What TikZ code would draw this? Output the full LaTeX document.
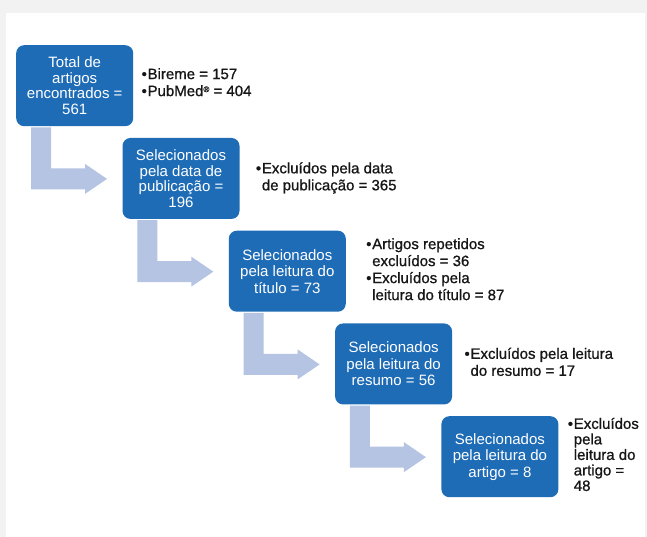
\documentclass[tikz,border=0pt]{standalone}
\usepackage{fontspec}
\setmainfont{Liberation Sans}
\newfontfamily\notefont[FakeBold=0.9]{Liberation Sans}
\usetikzlibrary{calc}
\definecolor{boxblue}{RGB}{31,108,182}
\definecolor{arrowblue}{RGB}{181,196,227}
\definecolor{txtcol}{RGB}{22,22,22}
\definecolor{framegray}{RGB}{242,242,242}
\newcommand{\bl}{\makebox[6pt][l]{\textbullet}}
\newcommand{\bentarr}[1]{%
  \fill[bentarrow] ($(#1.south west)+(15,1)$) -- ($(#1.south west)+(35,1)$)
    -- ($(#1.south west)+(35,42)$) -- ($(#1.south west)+(69,42)$)
    -- ($(#1.south west)+(69,37.5)$) -- ($(#1.south west)+(91,52.5)$)
    -- ($(#1.south west)+(69,67.5)$) -- ($(#1.south west)+(69,63)$)
    -- ($(#1.south west)+(15,63)$) -- cycle;}
\begin{document}
\begin{tikzpicture}[x=1pt,y=-1pt,
  stagebox/.style={fill=boxblue, rounded corners=8pt, minimum width=117pt,
    minimum height=81pt, text=white, align=center, inner sep=0pt,
    font=\fontsize{15}{15.5}\selectfont},
  notes/.style={anchor=west, text=txtcol, inner sep=0pt,
    font=\notefont\fontsize{15}{17}\selectfont},
  bentarrow/.style={fill=arrowblue}]
\fill[framegray] (0,0) rectangle (647,537);
\fill[white] (6,13) rectangle (645,537);
\useasboundingbox (0,0) rectangle (647,537);

\node[stagebox, anchor=north west] (b1) at (16,45) {Total de\\artigos\\encontrados =\\561};
\node[stagebox, anchor=north west] (b2) at (122.3,137.75) {Selecionados\\pela data de\\publicação =\\196};
\node[stagebox, anchor=north west, font=\fontsize{15}{16.5}\selectfont] (b3) at (228.6,230.5) {Selecionados\\pela leitura do\\título = 73};
\node[stagebox, anchor=north west, font=\fontsize{15}{16.5}\selectfont] (b4) at (334.9,323.25) {Selecionados\\pela leitura do\\resumo = 56};
\node[stagebox, anchor=north west, font=\fontsize{15}{16.5}\selectfont] (b5) at (441.2,416) {Selecionados\\pela leitura do\\artigo = 8};

\bentarr{b1}
\bentarr{b2}
\bentarr{b3}
\bentarr{b4}

\node[notes] (n1) at ($(b1.east)+(8,-1.5)$) {\begin{tabular}{@{}l@{}l@{}}\bl&Bireme = 157\\\bl&PubMed{\fontsize{8}{8}\selectfont\raisebox{4pt}{®}} = 404\end{tabular}};
\node[notes] (n2) at ($(b2.east)+(16,0)$) {\begin{tabular}{@{}l@{}l@{}}\bl&Excluídos pela data\\&de publicação = 365\end{tabular}};
\node[notes] (n3) at ($(b3.east)+(20,0)$) {\begin{tabular}{@{}l@{}l@{}}\bl&Artigos repetidos\\&excluídos = 36\\\bl&Excluídos pela\\&leitura do título = 87\end{tabular}};
\node[notes] (n4) at ($(b4.east)+(12,0)$) {\begin{tabular}{@{}l@{}l@{}}\bl&Excluídos pela leitura\\&do resumo = 17\end{tabular}};
\node[notes, font=\notefont\fontsize{15}{15.5}\selectfont] (n5) at ($(b5.east)+(9,0)$) {\begin{tabular}{@{}l@{}l@{}}\bl&Excluídos\\&pela\\&leitura do\\&artigo =\\&48\end{tabular}};
\end{tikzpicture}
\end{document}
